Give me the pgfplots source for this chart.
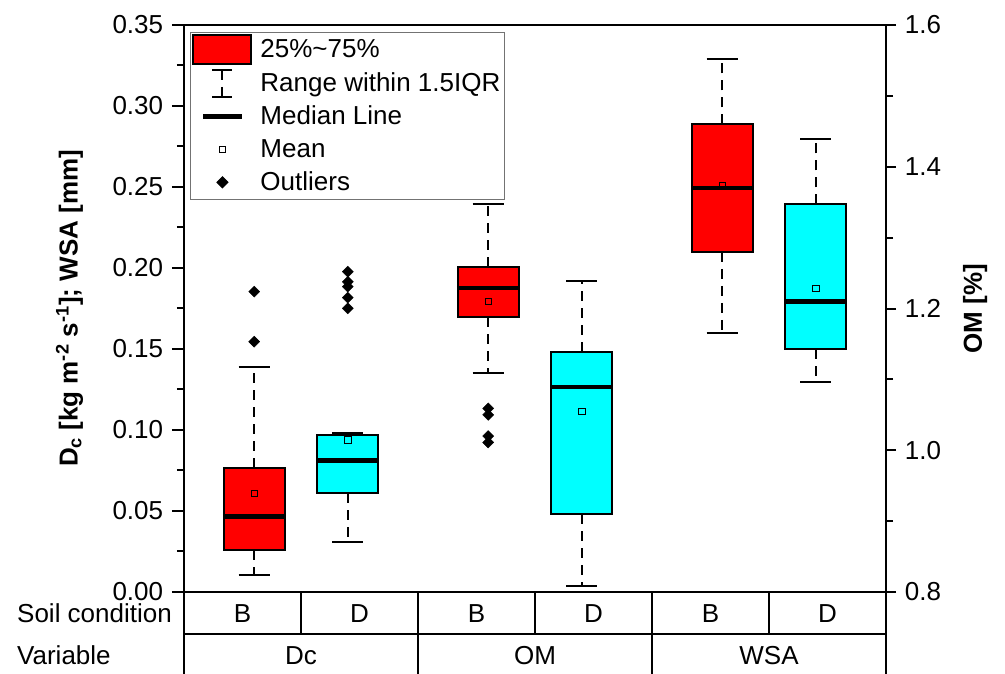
\documentclass[border=0pt]{standalone}
\usepackage{fontspec}
\setmainfont{Liberation Sans}
\usepackage{pgfplots}
\pgfplotsset{compat=1.18}
\usepgfplotslibrary{statistics}

\definecolor{boxred}{RGB}{255,0,0}
\definecolor{boxcyan}{RGB}{0,255,255}

\pgfplotsset{
  /pgf/number format/assume math mode=true,
  boxplot/draw direction=y,
  boxplot/draw/lower whisker/.code={%
    \draw[black, line width=2bp, dash pattern=on 10bp off 7bp]
      (boxplot box cs:\pgfplotsboxplotvalue{lower quartile},0.5) --
      (boxplot box cs:\pgfplotsboxplotvalue{lower whisker},0.5);
    \draw[black, line width=2bp]
      (boxplot whisker cs:\pgfplotsboxplotvalue{lower whisker},0) --
      (boxplot whisker cs:\pgfplotsboxplotvalue{lower whisker},1);
  },
  boxplot/draw/upper whisker/.code={%
    \draw[black, line width=2bp, dash pattern=on 10bp off 7bp]
      (boxplot box cs:\pgfplotsboxplotvalue{upper quartile},0.5) --
      (boxplot box cs:\pgfplotsboxplotvalue{upper whisker},0.5);
    \draw[black, line width=2bp]
      (boxplot whisker cs:\pgfplotsboxplotvalue{upper whisker},0) --
      (boxplot whisker cs:\pgfplotsboxplotvalue{upper whisker},1);
  },
  boxplot/draw/average/.code={%
    \node[draw=black, line width=0.8bp, minimum size=6.5bp, inner sep=0pt]
      at (boxplot box cs:\pgfplotsboxplotvalue{average},0.5) {};
  },
  boxplot/every median/.style={draw=black, line width=4.5bp, shorten <=-1bp, shorten >=-1bp},
  boxplot/box extend=0.52,
  boxplot/whisker extend=0.265,
  redbox/.style={boxplot/every box/.style={draw=black, line width=2bp, fill=boxred}},
  cyanbox/.style={boxplot/every box/.style={draw=black, line width=2bp, fill=boxcyan}},
  outl/.style={mark=square*, mark size=3.9bp, mark options={rotate=45, draw=black, fill=black}},
}

\begin{document}
\fontsize{26bp}{31bp}\selectfont
\begin{tikzpicture}
\useasboundingbox (0,0) rectangle (1005bp,674bp);
% ---------------- left axis: Dc and WSA ----------------
\begin{axis}[
  at={(184bp,82bp)}, anchor=south west,
  scale only axis, width=702bp, height=567bp,
  xmin=0, xmax=6, ymin=0, ymax=0.35,
  axis line style={line width=2bp},
  tick style={black, line width=2bp},
  tick align=outside,
  major tick length=12bp, minor tick length=7bp,
  ytick pos=left, xtick pos=bottom,
  ytick={0,0.05,0.10,0.15,0.20,0.25,0.30,0.35},
  minor y tick num=1,
  yticklabel style={inner ysep=0bp, /pgf/number format/.cd, fixed, fixed zerofill, precision=2},
  xtick={0.5,1.5,2.5,3.5,4.5,5.5},
  xticklabels={B,D,B,D,B,D},
  major x tick style={draw=none},
  xticklabel style={anchor=base, yshift=-18bp},
  ylabel={\bfseries D\textsubscript{c} [kg m\textsuperscript{-2} s\textsuperscript{-1}]; WSA [mm]},
  ylabel style={at={(axis description cs:-0.163,0.5)}, anchor=center},
]
% Dc, B
\addplot[redbox, outl, boxplot prepared={draw position=0.6,
  lower whisker=0.0107, lower quartile=0.0259, median=0.0465,
  upper quartile=0.0767, upper whisker=0.1389, average=0.0609}]
  table[row sep=\\, y index=0] {v\\ 0.1854\\ 0.1545\\};
% Dc, D
\addplot[cyanbox, outl, boxplot prepared={draw position=1.4,
  lower whisker=0.0311, lower quartile=0.0609, median=0.0811,
  upper quartile=0.0969, upper whisker=0.0980, average=0.0938}]
  table[row sep=\\, y index=0] {v\\ 0.1977\\ 0.1915\\ 0.1885\\ 0.1817\\ 0.1751\\};
% WSA, B
\addplot[redbox, outl, boxplot prepared={draw position=4.6,
  lower whisker=0.1597, lower quartile=0.2099, median=0.2494,
  upper quartile=0.2887, upper whisker=0.3292, average=0.2510}]
  coordinates {};
% WSA, D
\addplot[cyanbox, outl, boxplot prepared={draw position=5.4,
  lower whisker=0.1296, lower quartile=0.1498, median=0.1792,
  upper quartile=0.2393, upper whisker=0.2794, average=0.1875}]
  coordinates {};
\end{axis}
% ---------------- right axis: OM ----------------
\begin{axis}[
  at={(184bp,82bp)}, anchor=south west,
  scale only axis, width=702bp, height=567bp,
  xmin=0, xmax=6, ymin=0.8, ymax=1.6,
  hide x axis,
  axis line style={line width=2bp},
  tick style={black, line width=2bp},
  tick align=outside,
  major tick length=10bp, minor tick length=7bp,
  ytick pos=right,
  ytick={0.8,1.0,1.2,1.4,1.6},
  minor y tick num=1,
  yticklabel style={inner ysep=0bp, /pgf/number format/.cd, fixed, fixed zerofill, precision=1},
  ylabel={\bfseries OM [\%]},
  ylabel style={at={(axis description cs:1.127,0.5)}, anchor=center},
  legend cell align=left,
  legend style={at={(0.0085,0.988)}, anchor=north west, draw=black!55, line width=1bp,
    fill=white, inner sep=2bp, row sep=3bp,
    nodes={inner sep=2bp, text height=21bp, text depth=5bp},
    /tikz/every odd column/.append style={column sep=6bp}},
]
% OM, B
\addplot[forget plot, redbox, outl, boxplot prepared={draw position=2.6,
  lower whisker=1.109, lower quartile=1.188, median=1.229,
  upper quartile=1.259, upper whisker=1.348, average=1.210}]
  table[row sep=\\, y index=0] {v\\ 1.059\\ 1.050\\ 1.020\\ 1.011\\};
% OM, D
\addplot[forget plot, cyanbox, outl, boxplot prepared={draw position=3.4,
  lower whisker=0.809, lower quartile=0.910, median=1.089,
  upper quartile=1.139, upper whisker=1.239, average=1.055}]
  coordinates {};
% legend
\addlegendimage{legend image code/.code={
  \draw[fill=boxred, line width=2bp] (0bp,-14.5bp) rectangle (58bp,14.5bp);}}
\addlegendentry{25\%\textasciitilde75\%}
\addlegendimage{legend image code/.code={
  \path[draw=none] (0bp,0bp) -- (58bp,0bp);
  \draw[line width=2bp] (19bp,13.5bp) -- (39bp,13.5bp);
  \draw[line width=2bp] (19bp,-13.5bp) -- (39bp,-13.5bp);
  \draw[line width=2bp, dash pattern=on 10bp off 7bp] (29bp,13.5bp) -- (29bp,-13.5bp);}}
\addlegendentry{Range within 1.5IQR}
\addlegendimage{legend image code/.code={
  \path[draw=none] (0bp,0bp) -- (58bp,0bp);
  \draw[line width=4.5bp] (10bp,0bp) -- (49bp,0bp);}}
\addlegendentry{Median Line}
\addlegendimage{legend image code/.code={
  \path[draw=none] (0bp,0bp) -- (58bp,0bp);
  \draw[line width=0.8bp] (25.75bp,-3.25bp) rectangle (32.25bp,3.25bp);}}
\addlegendentry{Mean}
\addlegendimage{legend image code/.code={
  \path[draw=none] (0bp,0bp) -- (58bp,0bp);
  \fill (29bp,5.5bp) -- (34.5bp,0bp) -- (29bp,-5.5bp) -- (23.5bp,0bp) -- cycle;}}
\addlegendentry{Outliers}
\end{axis}
% ---------------- category table below the axis ----------------
\draw[line width=1.6bp] (184bp,40bp) -- (886bp,40bp);
\foreach \x in {301,418,535,652,769} {\draw[line width=1.6bp] (\x bp,82bp) -- (\x bp,40bp);}
\foreach \x in {184,418,652,886} {\draw[line width=1.6bp] (\x bp,82bp) -- (\x bp,0bp);}
\node[anchor=base west, inner sep=0pt] at (17bp,51bp) {Soil condition};
\node[anchor=base west, inner sep=0pt] at (17bp,10bp) {Variable};
\node[anchor=base, inner sep=0pt] at (301bp,10bp) {Dc};
\node[anchor=base, inner sep=0pt] at (535bp,10bp) {OM};
\node[anchor=base, inner sep=0pt] at (769bp,10bp) {WSA};
\end{tikzpicture}
\end{document}
